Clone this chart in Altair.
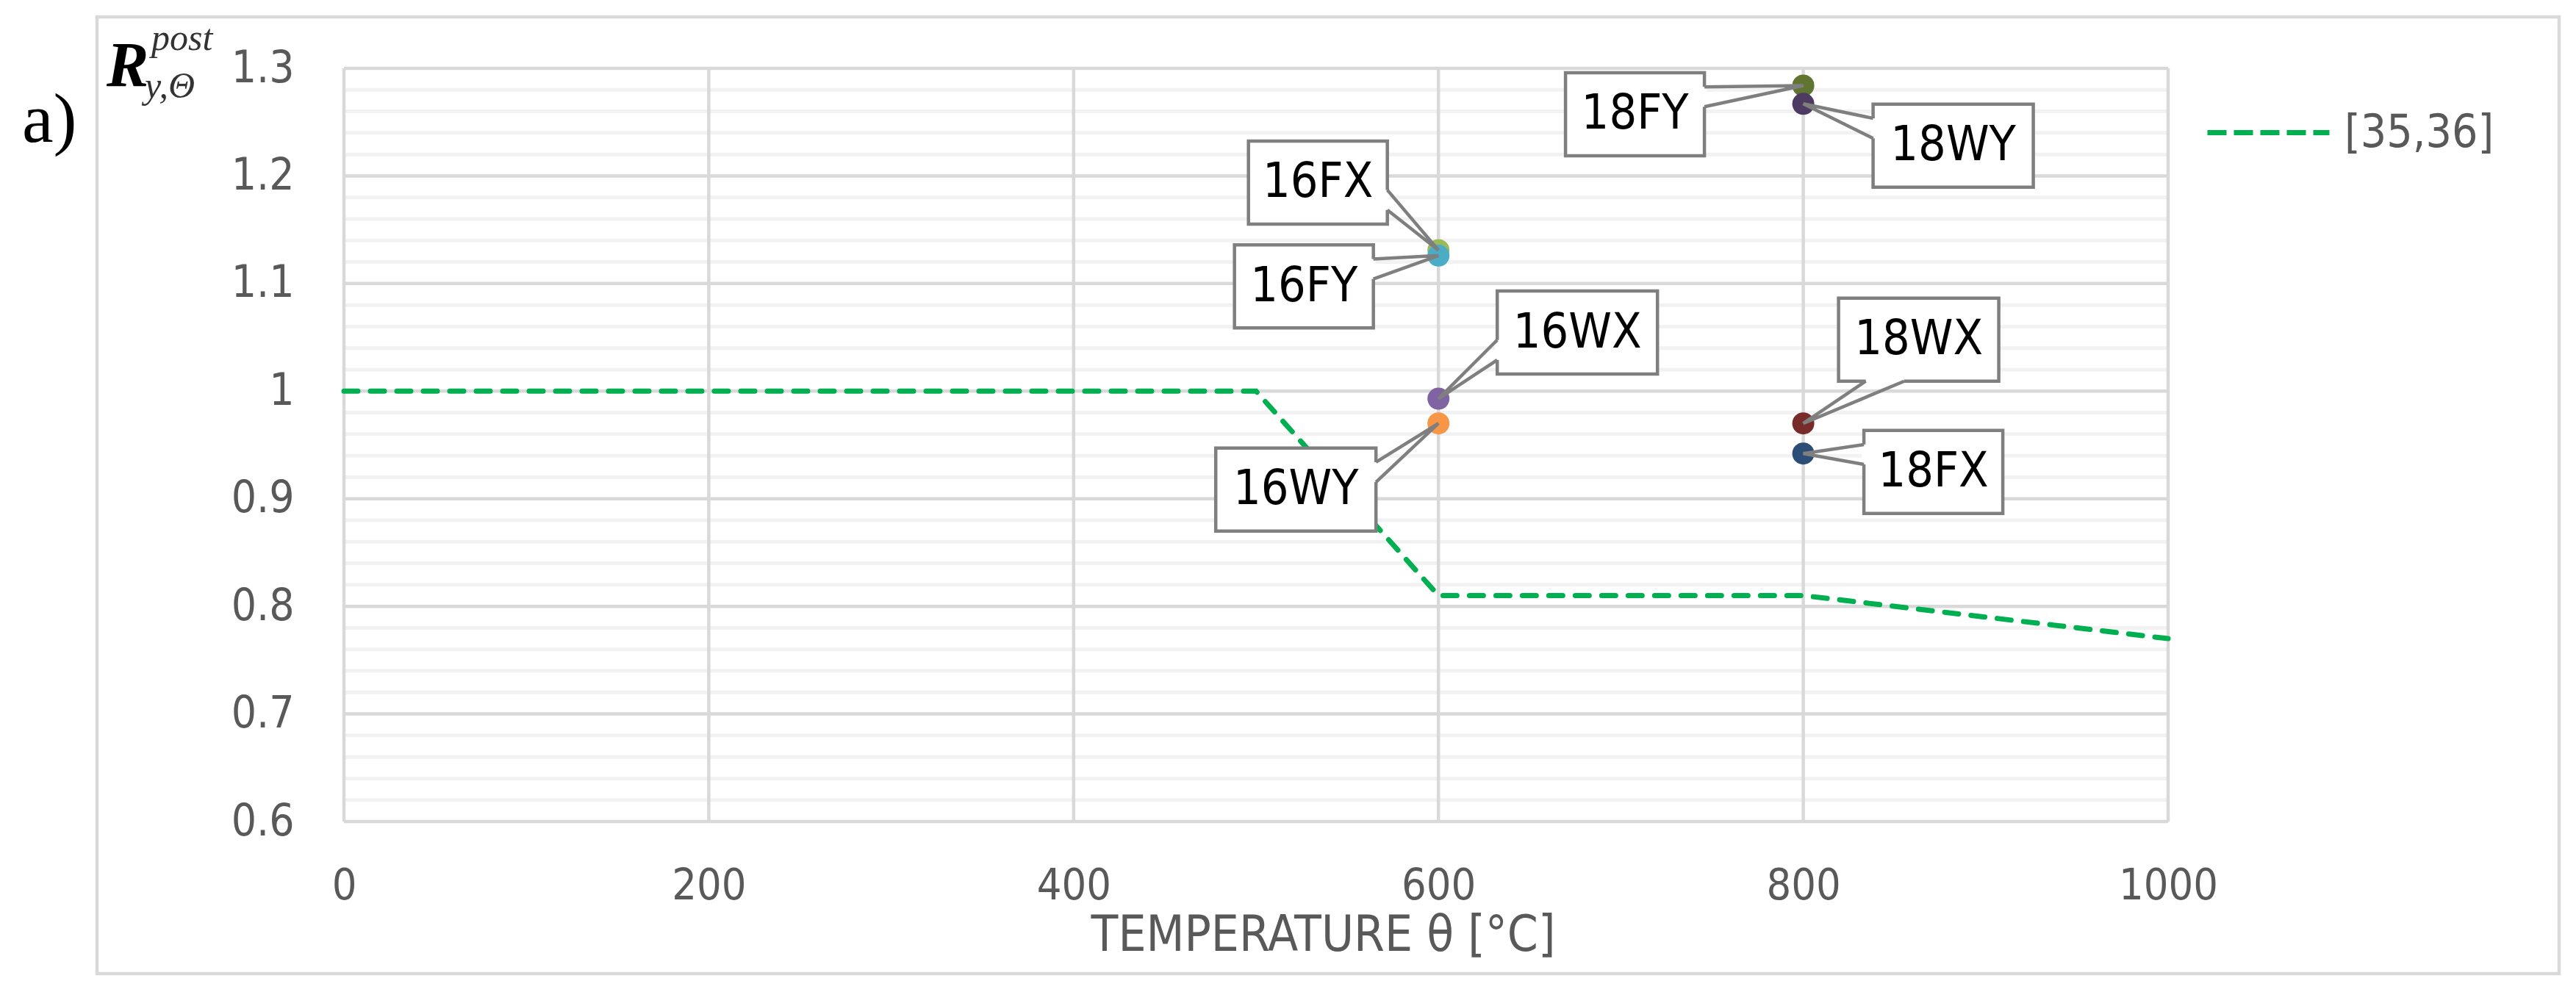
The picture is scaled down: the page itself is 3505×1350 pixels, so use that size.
import altair as alt
import pandas as pd

# ---------------- data ----------------
ref_name = "[35,36]"
ref_temp = [0, 500, 600, 800, 1000]
ref_r = [1.0, 1.0, 0.81, 0.81, 0.77]

specimens = ["16FX", "16WX", "16FY", "16WY", "18FX", "18WX", "18FY", "18WY"]
spec_temp = [600, 600, 600, 600, 800, 800, 800, 800]
spec_r = [1.131, 0.993, 1.126, 0.970, 0.942, 0.970, 1.284, 1.267]
spec_colors = ["#9BBB59", "#8064A2", "#4BACC6", "#F79646",
               "#2C4D75", "#772C2A", "#5F7530", "#4D3B62"]

x_ticks = [0, 200, 400, 600, 800, 1000]
y_ticks = [0.6, 0.7, 0.8, 0.9, 1.0, 1.1, 1.2, 1.3]
y_minor_step = 0.02

# ---------------- layout ----------------
W, H = 2482, 1025
X_DOM, Y_DOM = (0, 1000), (0.6, 1.3)
FONT = "Liberation Sans Narrow, DejaVu Sans Condensed, Liberation Sans, sans-serif"
GRID_MAJOR, GRID_MINOR = "#D9D9D9", "#F2F2F2"
TXT = "#595959"
BOX_STROKE = "#7F7F7F"

# callout layout: offset (px) of box centre from its point, box width, wedge side
callout_dx = [-164, 189, -183, -194, 177, 157, -229, 204]
callout_dy = [-92, -90, 42, 90, 25, -114, 39, 57]
callout_w = [189, 218, 189, 218, 189, 218, 189, 218]
callout_h = 113
callout_side = ["right", "left", "right", "right", "left", "bottom", "right", "left"]
wedge_f = (0.17, 0.41)

px_x = (X_DOM[1] - X_DOM[0]) / W
px_y = (Y_DOM[1] - Y_DOM[0]) / H

xs = alt.Scale(domain=list(X_DOM), nice=False, zero=False)
ys = alt.Scale(domain=list(Y_DOM), nice=False, zero=False)

# ---------------- tables ----------------
ref_df = pd.DataFrame({"temp": ref_temp, "r": ref_r, "src": ref_name})
pts_df = pd.DataFrame({"label": specimens, "temp": spec_temp, "r": spec_r,
                       "ord": list(range(len(specimens)))})

boxes, wedge, erase = [], [], []
for i, lab in enumerate(specimens):
    t, r = spec_temp[i], spec_r[i]
    cx, cy = callout_dx[i], callout_dy[i]          # px, y down
    hw, hh = callout_w[i] / 2, callout_h / 2
    def to_data(px, py):
        return t + px * px_x, r - py * px_y
    x1, y1 = to_data(cx - hw, cy - hh)
    x2, y2 = to_data(cx + hw, cy + hh)
    c = to_data(cx, cy)
    boxes.append({"label": lab, "x1": x1, "x2": x2, "y1": y1, "y2": y2,
                  "cx": c[0], "cy": c[1]})
    side = callout_side[i]
    if side in ("right", "left"):
        ex = cx + hw if side == "right" else cx - hw
        if 0 < cy:   # point above centre -> measure from top
            a, b = cy - hh + wedge_f[0] * 2 * hh, cy - hh + wedge_f[1] * 2 * hh
        else:
            a, b = cy + hh - wedge_f[0] * 2 * hh, cy + hh - wedge_f[1] * 2 * hh
        A, B = to_data(ex, a), to_data(ex, b)
    else:
        ey = cy + hh if side == "bottom" else cy - hh
        if 0 < cx:
            a, b = cx - hw + wedge_f[0] * 2 * hw, cx - hw + wedge_f[1] * 2 * hw
        else:
            a, b = cx + hw - wedge_f[0] * 2 * hw, cx + hw - wedge_f[1] * 2 * hw
        A, B = to_data(a, ey), to_data(b, ey)
    wedge += [{"label": lab, "seq": 0, "x": A[0], "y": A[1]},
              {"label": lab, "seq": 1, "x": t, "y": r},
              {"label": lab, "seq": 2, "x": B[0], "y": B[1]}]
    erase.append({"label": lab, "x": A[0], "y": A[1], "x2": B[0], "y2": B[1]})

box_df = pd.DataFrame(boxes)
wedge_df = pd.DataFrame(wedge)
erase_df = pd.DataFrame(erase)

n_minor = int(round((Y_DOM[1] - Y_DOM[0]) / y_minor_step))
minor_vals = [round(Y_DOM[0] + k * y_minor_step, 2) for k in range(n_minor + 1)]
minor_vals = [v for v in minor_vals if all(abs(v - m) > 1e-9 for m in y_ticks)]
minor_df = pd.DataFrame({"y": minor_vals})
hmaj_df = pd.DataFrame({"y": y_ticks})
vmaj_df = pd.DataFrame({"x": x_ticks})

# ---------------- layers ----------------
x_axis = alt.Axis(values=x_ticks, format="d", grid=False, domain=False, ticks=False,
                  tickSize=0, labelFont=FONT, labelFontSize=59, labelColor=TXT,
                  labelBaseline="alphabetic", labelPadding=105, labelFlush=False,
                  labelOverlap=False, labelBound=False,
                  title="TEMPERATURE θ [°C]", titleFont=FONT, titleFontSize=67,
                  titleFontWeight="normal", titleColor=TXT, titleX=1332, titleY=175,
                  titleAlign="center", titleBaseline="alphabetic")
y_axis = alt.Axis(values=y_ticks, format="~g", grid=False, domain=False, ticks=False,
                  tickSize=0, labelFont=FONT, labelFontSize=60, labelColor=TXT,
                  labelPadding=68, labelFlush=False, labelOverlap=False, title=None)

minor = alt.Chart(minor_df).mark_rule(stroke=GRID_MINOR, strokeWidth=5).encode(
    y=alt.Y("y:Q", scale=ys, axis=y_axis))
hmaj = alt.Chart(hmaj_df).mark_rule(stroke=GRID_MAJOR, strokeWidth=4.5).encode(
    y=alt.Y("y:Q", scale=ys))
vmaj = alt.Chart(vmaj_df).mark_rule(stroke=GRID_MAJOR, strokeWidth=4.5).encode(
    x=alt.X("x:Q", scale=xs, axis=x_axis))

ref_line = alt.Chart(ref_df).mark_line(strokeWidth=7, strokeDash=[19, 17],
                                       strokeCap="round").encode(
    x=alt.X("temp:Q", scale=xs),
    y=alt.Y("r:Q", scale=ys),
    stroke=alt.Stroke("src:N", scale=alt.Scale(domain=[ref_name], range=["#00B050"]),
                      legend=alt.Legend(title=None, orient="none", legendX=2532, legendY=1,
                                        symbolType="stroke", symbolSize=27556,
                                        symbolStrokeWidth=7, symbolDash=[26, 10],
                                        labelFont=FONT, labelFontSize=62, labelLimit=0,
                                        labelColor=TXT, labelOffset=17, padding=0)))

dots = alt.Chart(pts_df).mark_circle(size=900, opacity=1).encode(
    x=alt.X("temp:Q", scale=xs),
    y=alt.Y("r:Q", scale=ys),
    fill=alt.Fill("label:N", scale=alt.Scale(domain=specimens, range=spec_colors),
                  legend=None),
    order=alt.Order("ord:Q"))

box = alt.Chart(box_df).mark_rect(fill="white", stroke=BOX_STROKE, strokeWidth=4.5).encode(
    x=alt.X("x1:Q", scale=xs), x2="x2:Q", y=alt.Y("y1:Q", scale=ys), y2="y2:Q")
eraser = alt.Chart(erase_df).mark_rule(stroke="white", strokeWidth=6).encode(
    x=alt.X("x:Q", scale=xs), y=alt.Y("y:Q", scale=ys), x2="x2:Q", y2="y2:Q")
wedges = alt.Chart(wedge_df).mark_line(stroke=BOX_STROKE, strokeWidth=4.5).encode(
    x=alt.X("x:Q", scale=xs), y=alt.Y("y:Q", scale=ys),
    detail="label:N", order="seq:Q")
box_text = alt.Chart(box_df).mark_text(font=FONT, fontSize=66, color="black",
                                       baseline="middle", align="center").encode(
    x=alt.X("cx:Q", scale=xs), y=alt.Y("cy:Q", scale=ys), text="label:N")

# decorative frame, panel letter and axis symbol (pixel positions relative to plot)
one = pd.DataFrame({"k": [0]})
frame = alt.Chart(one).mark_rect(fillOpacity=0, stroke=GRID_MAJOR, strokeWidth=4.5).encode(
    x=alt.value(-336), x2=alt.value(3014), y=alt.value(-70), y2=alt.value(1232))
panel = alt.Chart(pd.DataFrame({"t": ["a)"]})).mark_text(
    font="Liberation Serif", fontSize=96, color="black", align="left",
    baseline="alphabetic").encode(x=alt.value(-438), y=alt.value(100), text="t:N")
sym_R = alt.Chart(pd.DataFrame({"t": ["R"]})).mark_text(
    font="Liberation Serif", fontSize=86, fontStyle="italic", fontWeight="bold",
    color="black", align="left", baseline="alphabetic").encode(
    x=alt.value(-323), y=alt.value(24), text="t:N")
sym_sup = alt.Chart(pd.DataFrame({"t": ["post"]})).mark_text(
    font="Liberation Serif", fontSize=50, fontStyle="italic",
    color="#333333", align="left", baseline="alphabetic").encode(
    x=alt.value(-262), y=alt.value(-25), text="t:N")
sym_sub = alt.Chart(pd.DataFrame({"t": ["y,Θ"]})).mark_text(
    font="Liberation Serif", fontSize=50, fontStyle="italic",
    color="#333333", align="left", baseline="alphabetic").encode(
    x=alt.value(-271), y=alt.value(40), text="t:N")

chart = alt.layer(
    frame, minor, hmaj, vmaj, ref_line, dots, box, eraser, wedges, box_text,
    panel, sym_R, sym_sup, sym_sub
).properties(
    width=W, height=H,
    autosize=alt.AutoSizeParams(type="none"),
    padding={"left": 460, "top": 85, "right": 540, "bottom": 215},
).configure_view(stroke=None).configure(background="white")

chart.save("out.html", embed_options={"renderer": "svg", "actions": False})
